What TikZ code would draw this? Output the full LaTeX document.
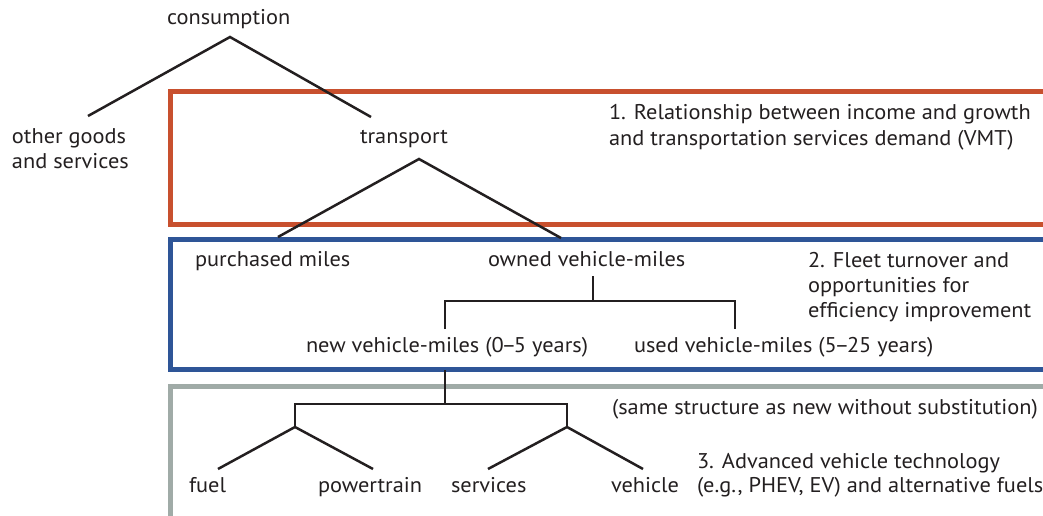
\documentclass[tikz,border=0pt]{standalone}
\usepackage{fontspec}
\setmainfont[FakeStretch=1.05]{PT Sans}
\definecolor{txt}{HTML}{231F20}
\definecolor{redbox}{HTML}{C8502E}
\definecolor{bluebox}{HTML}{2E5597}
\definecolor{graybox}{HTML}{A0ABA7}
\newcommand{\tightdash}{\kern-2.3pt--\kern-2.3pt}
\tikzset{
  lbl/.style={anchor=base west, inner sep=0pt, outer sep=0pt, text=txt, font=\fontsize{21.3}{25}\selectfont},
  branch/.style={draw=txt, line width=2.5pt},
  frame/.style={line width=5pt},
}
\begin{document}
\begin{tikzpicture}[x=1pt,y=-1pt]
\useasboundingbox (0,0) rectangle (1043,516);
\clip (0,0) rectangle (1043,516);
% frames
\draw[frame, draw=redbox] (1060,92) -- (170,92) -- (170,224.5) -- (1060,224.5);
\draw[frame, draw=bluebox] (1060,239) -- (170,239) -- (170,369.5) -- (1060,369.5);
\draw[frame, draw=graybox] (1060,386) -- (170,386) -- (170,518) -- (1060,518);
% labels
\node[lbl] (consumption) at (167,25) {consumption};
\node[lbl] (other1) at (12,143) {other goods};
\node[lbl] (other2) at (12,168) {and services};
\node[lbl] (transport) at (360,143) {transport};
\node[lbl] (purchased) at (195,266) {purchased miles};
\node[lbl] (owned) at (488,266) {owned vehicle-miles};
\node[lbl] (newvm) at (306,352) {new vehicle-miles (0\tightdash5 years)};
\node[lbl] (usedvm) at (634,352) {used vehicle-miles (5\tightdash25 years)};
\node[lbl] (fuel) at (189,492) {fuel};
\node[lbl] (powertrain) at (318,492) {powertrain};
\node[lbl] (services) at (451,492) {services};
\node[lbl] (vehicle) at (611,492) {vehicle};
\node[lbl] (t1a) at (609,120) {1. Relationship between income and growth};
\node[lbl] (t1b) at (609,145) {and transportation services demand (VMT)};
\node[lbl] (t2a) at (808,267) {2. Fleet turnover and};
\node[lbl] (t2b) at (808,292.5) {opportunities for};
\node[lbl] (t2c) at (808,317.5) {efficiency improvement};
\node[lbl] (same) at (612,414) {(same structure as new without substitution)};
\node[lbl] (t3a) at (697,468) {3. Advanced vehicle technology};
\node[lbl] (t3b) at (697,492) {(e.g., PHEV, EV) and alternative fuels};
% junction coordinates
\coordinate (cApex) at (230,37);
\coordinate (cL) at (88,116);
\coordinate (cR) at (371,117);
\coordinate (tApex) at (419,159);
\coordinate (tL) at (278,237);
\coordinate (tR) at (561,238);
\coordinate (oTop) at (593,276);
\coordinate (oMid) at (593,301);
\coordinate (oL) at (445,301);
\coordinate (oR) at (735,301);
\coordinate (oLd) at (445,329);
\coordinate (oRd) at (735,329);
\coordinate (nTop) at (445,370);
\coordinate (nMid) at (445,404);
\coordinate (nL) at (295,404);
\coordinate (nR) at (567,404);
\coordinate (nLa) at (295,427);
\coordinate (nRa) at (567,427);
\coordinate (fuelT) at (218,469);
\coordinate (powerT) at (373,469);
\coordinate (servT) at (488,469);
\coordinate (vehT) at (643,469);
% branches
\draw[branch] (cL) -- (cApex) -- (cR);
\draw[branch] (tL) -- (tApex) -- (tR);
\draw[branch] (oTop) -- (oMid);
\draw[branch] (oLd) -- (oL) -- (oR) -- (oRd);
\draw[branch] (nTop) -- (nMid);
\draw[branch] (nLa) -- (nL) -- (nR) -- (nRa);
\draw[branch] (fuelT) -- (nLa) -- (powerT);
\draw[branch] (servT) -- (nRa) -- (vehT);
\end{tikzpicture}
\end{document}
